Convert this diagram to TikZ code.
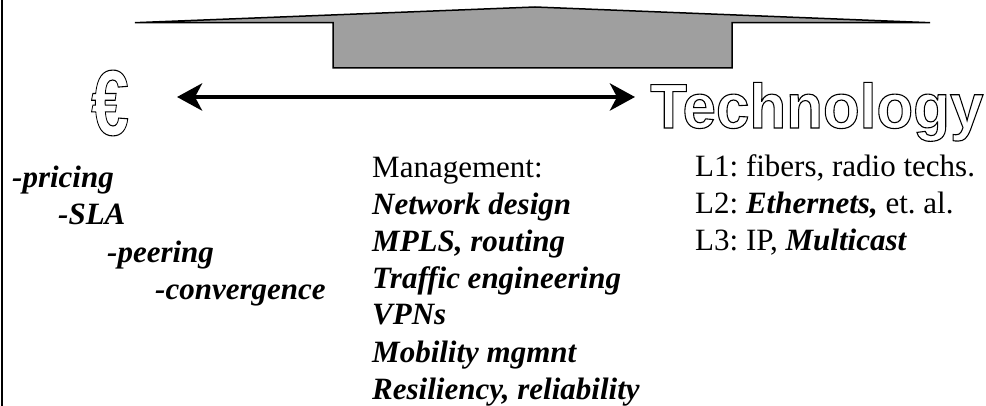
\documentclass[tikz,border=0pt]{standalone}
\usepackage{fontspec}
\setmainfont{Liberation Serif}
\newfontfamily\logofont{Liberation Sans}
\usepackage{xcolor}
\usepackage{tikz}
\usetikzlibrary{arrows.meta}
\definecolor{capgray}{RGB}{159,159,159}
\newcommand{\hollow}[1]{\special{pdf:literal direct 1 Tr 1.1 w}#1\special{pdf:literal direct 0 Tr}}
\newcommand{\bi}[1]{\textbf{\textit{#1}}}

\begin{document}
\frenchspacing
\begin{tikzpicture}[
  x=1pt, y=-1pt,
  txt/.style={anchor=base west, inner sep=0pt, align=left},
  big/.style={txt, font=\fontsize{31}{37}\selectfont},
  logo/.style={txt, font=\logofont\bfseries},
  arr/.style={{Stealth[length=25pt,width=27pt,inset=7pt]}-{Stealth[length=25pt,width=27pt,inset=7pt]}, line width=4.5pt}
]
\useasboundingbox (0,0) rectangle (986,406);
\draw[line width=2pt] (1.5,0) -- (1.5,406);
% the hat on top
\draw[fill=capgray, line width=1.5pt, line join=miter]
  (135,22.7) -- (535,7) -- (930,22.7) -- (732,22.7) -- (732,68) -- (333,68) -- (333,22.7) -- cycle;
% the two ends
\node[logo] (euro) at (91,135) {\fontsize{93}{93}\selectfont\scalebox{0.73}[1]{\hollow{€}}};
\node[logo] (tech) at (650,128) {\fontsize{63}{63}\selectfont\scalebox{0.955}[1]{\hollow{Technology}}};
\coordinate (lend) at (177,97);
\coordinate (rend) at (635,97);
\draw[arr] (lend) -- (rend);
% business side
\node[big] (price) at (12,187.5) {\bi{-pricing}};
\node[big] (sla)   at (58,225) {\bi{-SLA}};
\node[big] (peer)  at (107,262.5) {\bi{-peering}};
\node[big] (conv)  at (155,300) {\bi{-convergence}};
% management (base = last line)
\node[big] (mgmt) at (372,399) {Management:\\ \bi{Network design}\\ \bi{MPLS, routing}\\ \bi{Traffic engineering}\\ \bi{VPNs}\\ \bi{Mobility mgmnt}\\ \bi{Resiliency, reliability}};
% layers
\node[big] (lyr) at (695,251) {L1: fibers, radio techs.\\ L2: \bi{Ethernets,} et. al.\\ L3: IP, \bi{Multicast}};
\end{tikzpicture}
\end{document}
